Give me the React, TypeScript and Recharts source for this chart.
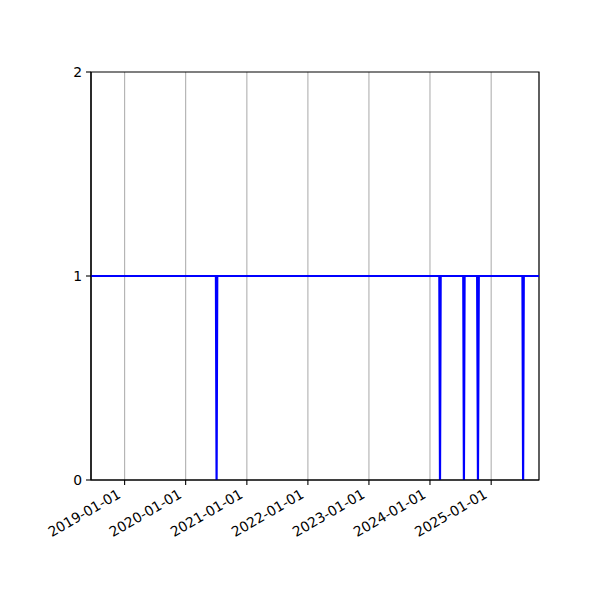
import React from "react";
import {
  LineChart,
  Line,
  XAxis,
  YAxis,
  CartesianGrid,
  ReferenceArea,
} from "recharts";

// x range shown on the axis
const rangeStart = "2018-06-14";
const rangeEnd = "2025-10-14";

// sampled points: 1 most of the time, short drops to 0
const dates = [
  "2018-06-14",
  "2020-06-30",
  "2020-07-04",
  "2020-07-08",
  "2024-02-26",
  "2024-03-01",
  "2024-03-05",
  "2024-07-18",
  "2024-07-22",
  "2024-07-26",
  "2024-10-09",
  "2024-10-14",
  "2024-10-19",
  "2025-07-07",
  "2025-07-11",
  "2025-07-15",
  "2025-10-14",
];
const values = [1, 1, 0, 1, 1, 0, 1, 1, 0, 1, 1, 0, 1, 1, 0, 1, 1];

const xTickDates = [
  "2019-01-01",
  "2020-01-01",
  "2021-01-01",
  "2022-01-01",
  "2023-01-01",
  "2024-01-01",
  "2025-01-01",
];
const yTicks = [0, 1, 2];

const toMs = (d: string) => Date.parse(d);
const fmt = (ms: number) => new Date(ms).toISOString().slice(0, 10);

const rows = dates.map((d, i) => ({ t: toMs(d), v: values[i] }));
const xDomain = [toMs(rangeStart), toMs(rangeEnd)];
const xTicks = xTickDates.map(toMs);

const font = "DejaVu Sans";

const DateTick = ({ x, y, payload }: any) => {
  const ax = x - 3;
  const ay = y + 8;
  return (
    <text
      x={ax}
      y={ay}
      transform={`rotate(-30, ${ax}, ${ay})`}
      textAnchor="end"
      fontFamily={font}
      fontSize={13.9}
      fill="#000"
    >
      {fmt(payload.value)}
    </text>
  );
};

const App = () => {
  return (
    <LineChart
      width={584}
      height={584}
      data={rows}
      margin={{ top: 64, right: 53, left: 0, bottom: 42 }}
    >
      <CartesianGrid horizontal={false} stroke="#b0b0b0" strokeWidth={1.1} />
      <XAxis
        dataKey="t"
        type="number"
        domain={xDomain}
        ticks={xTicks}
        interval={0}
        allowDataOverflow
        height={70}
        tickSize={5}
        tickMargin={4}
        axisLine={{ stroke: "#000", strokeWidth: 1.1 }}
        tickLine={{ stroke: "#000", strokeWidth: 1.1 }}
        tick={<DateTick />}
      />
      <YAxis
        domain={[0, 2]}
        ticks={yTicks}
        interval={0}
        width={83}
        tickSize={5}
        tickMargin={4}
        axisLine={{ stroke: "#000", strokeWidth: 1.1 }}
        tickLine={{ stroke: "#000", strokeWidth: 1.1 }}
        tick={{ fill: "#000", fontFamily: font, fontSize: 13.9 }}
      />
      <ReferenceArea
        x1={xDomain[0]}
        x2={xDomain[1]}
        y1={0}
        y2={2}
        fill="none"
        stroke="#000"
        strokeWidth={1.1}
        strokeOpacity={1}
        fillOpacity={0}
      />
      <Line
        dataKey="v"
        type="linear"
        stroke="#0000ff"
        strokeWidth={2.2}
        dot={false}
        activeDot={false}
        isAnimationActive={false}
      />
    </LineChart>
  );
};

export default App;
